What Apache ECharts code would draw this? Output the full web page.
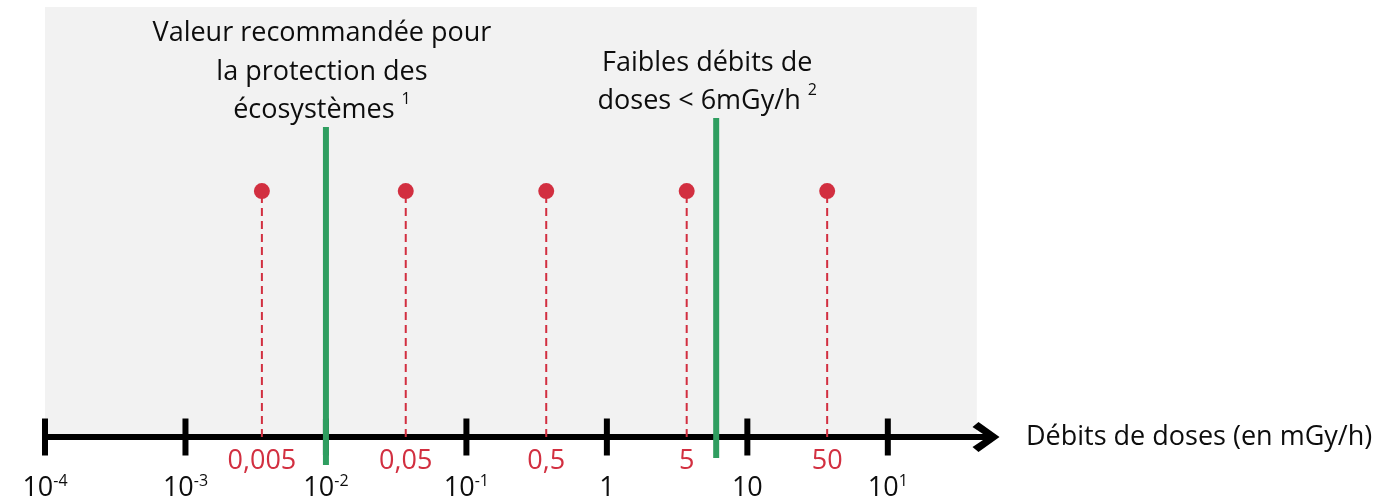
<!DOCTYPE html>
<html>
<head>
<meta charset="utf-8">
<script src="https://cdn.jsdelivr.net/npm/echarts@6/dist/echarts.min.js"></script>
<style>
html,body{margin:0;padding:0;background:#fff;}
#chart{width:1389px;height:500px;}
</style>
</head>
<body>
<div id="chart"></div>
<script>
// ---- data ----
const tickValues = [1e-4, 1e-3, 1e-2, 1e-1, 1, 10, 100];
const tickBase = ['10', '10', '10', '10', '1', '10', '10'];
const tickExp = ['-4', '-3', '-2', '-1', '', '', '1'];

const doseValues = [0.0035, 0.037, 0.37, 3.7, 37];
const doseLabels = ['0,005', '0,05', '0,5', '5', '50'];
const doseLevel = 57.2;

const thresholdValues = [0.01, 6];
const thresholdTop = [72.1, 74.2];
const thresholdBottom = [-6.5, -4.9];
const thresholdTexts = ['Valeur recommandée pour\nla protection des\nécosystèmes ', 'Faibles débits de\ndoses < 6mGy/h '];
const thresholdNotes = ['1', '2'];

const axisTitle = 'Débits de doses (en mGy/h)';

// ---- styles ----
const FONT = '"Open Sans", "Noto Sans", sans-serif';
const RED = '#d22f40';
const GREEN = '#2f9e60';
const GREY = '#f2f2f2';
const INK = '#0d0d0d';
const labelShift = [-4, -9];

const chart = echarts.init(document.getElementById('chart'));

const series = [];

// grey panel
series.push({
  type: 'scatter', data: [], silent: true,
  markArea: {
    silent: true, z: 0,
    itemStyle: { color: GREY },
    data: [[{ coord: [9.5e-5, -0.7] }, { coord: [430, 100] }]]
  }
});

// red dashed drop lines
doseValues.forEach(function (v) {
  series.push({
    type: 'line', silent: true, symbol: 'none', z: 3,
    data: [[v, 0], [v, doseLevel]],
    lineStyle: { color: RED, width: 2, type: [8, 5] }
  });
});

// red dots
series.push({
  type: 'scatter', silent: true, z: 4,
  symbolSize: 16,
  itemStyle: { color: RED, opacity: 1 },
  data: doseValues.map(function (v) { return [v, doseLevel]; })
});

// red value labels under the axis
series.push({
  type: 'scatter', silent: true, z: 5, symbolSize: 0,
  itemStyle: { opacity: 1, color: RED },
  data: doseValues.map(function (v, i) { return { value: [v, 0], name: doseLabels[i] }; }),
  label: {
    show: true, position: 'bottom', distance: 11,
    formatter: function (p) { return p.name; },
    color: RED, fontSize: 27, fontFamily: FONT, opacity: 1
  }
});

// axis ticks + tick labels
series.push({
  type: 'scatter', silent: true, z: 6,
  symbol: 'rect', symbolSize: [6, 37],
  itemStyle: { color: '#000', opacity: 1 },
  data: tickValues.map(function (v, i) { return { value: [v, 0], name: String(i) }; }),
  label: {
    show: true, position: 'bottom', distance: 18, opacity: 1,
    formatter: function (p) {
      const i = +p.name;
      return '{b|' + tickBase[i] + '}' + (tickExp[i] ? '{s|' + tickExp[i] + '}' : '');
    },
    rich: {
      b: { fontSize: 27, lineHeight: 30, color: INK, fontFamily: FONT },
      s: { fontSize: 16, lineHeight: 17, verticalAlign: 'top', color: INK, fontFamily: FONT }
    }
  }
});

// green threshold lines
thresholdValues.forEach(function (v, i) {
  series.push({
    type: 'line', silent: true, symbol: 'none', z: 8,
    data: [[v, thresholdBottom[i]], [v, thresholdTop[i]]],
    lineStyle: { color: GREEN, width: 6, cap: 'butt' }
  });
});

// threshold annotations
series.push({
  type: 'scatter', silent: true, z: 8, symbolSize: 0,
  itemStyle: { opacity: 1, color: INK },
  data: thresholdValues.map(function (v, i) {
    return {
      value: [v, thresholdTop[i]],
      label: {
        offset: [labelShift[i], 0],
        formatter: function () {
          return thresholdTexts[i] + '{sup|' + thresholdNotes[i] + '}';
        }
      }
    };
  }),
  label: {
    show: true, position: 'top', distance: -3,
    align: 'center', opacity: 1,
    color: INK, fontSize: 27, lineHeight: 38.5, fontFamily: FONT,
    rich: {
      sup: { fontSize: 16, lineHeight: 24, verticalAlign: 'top', color: INK, fontFamily: FONT }
    }
  }
});

chart.setOption({
  animation: false,
  backgroundColor: '#ffffff',
  grid: { left: 45, right: 403, top: 7, bottom: 0, containLabel: false },
  xAxis: {
    type: 'log', logBase: 10, min: 1e-4, max: 500, z: 1.5,
    name: axisTitle, nameLocation: 'end', nameGap: 40,
    nameTextStyle: { color: INK, fontSize: 27, fontFamily: FONT, verticalAlign: 'middle', align: 'left' },
    axisLine: {
      show: true, onZero: true,
      lineStyle: { color: '#000', width: 6 },
      symbol: ['none', 'path://M15,0 L30,21 L25,27 L15,12 L5,27 L0,21 Z'],
      symbolSize: [30, 28]
    },
    axisTick: { show: false },
    axisLabel: { show: false },
    splitLine: { show: false }
  },
  yAxis: {
    type: 'value', min: -14.65, max: 100, show: false,
    splitLine: { show: false }
  },
  series: series
});
</script>
</body>
</html>
